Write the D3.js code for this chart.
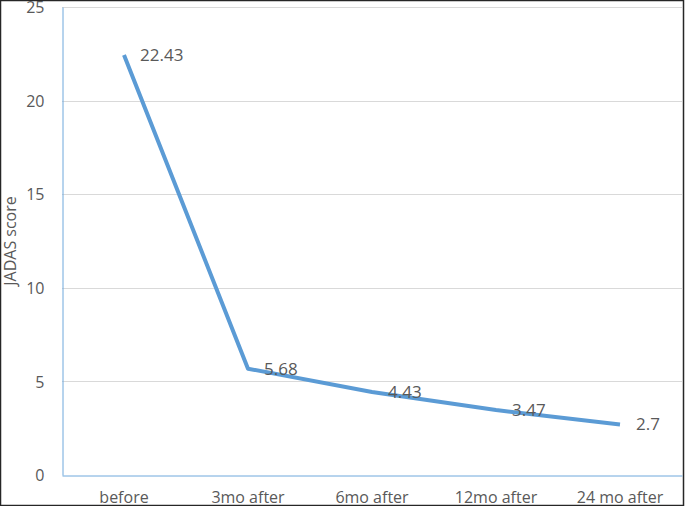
<!DOCTYPE html>
<html>
<head>
<meta charset="utf-8">
<script src="https://cdn.jsdelivr.net/npm/d3@7"></script>
<style>
  body { margin: 0; background: white; }
  text { font-family: "Open Sans", "Noto Sans", sans-serif; fill: #595959; }
</style>
</head>
<body>
<div id="chart"></div>
<script>
let categories = ["before", "3mo after", "6mo after", "12mo after", "24 mo after"]
let scores = [22.43, 5.68, 4.43, 3.47, 2.7]
let y_ticks = [0, 5, 10, 15, 20, 25]

let width = 685
let height = 506
let margin = { left: 62, right: 3, top: 7, bottom: 31 }

let svg = d3.select("#chart")
    .append("svg")
    .attr("width", width)
    .attr("height", height)

// 外框
svg.append("rect")
    .attr("x", 0.5).attr("y", 0.5)
    .attr("width", width - 2).attr("height", height - 1)
    .attr("fill", "white")
    .attr("stroke", "#262626")
    .attr("stroke-width", 1.5)

let x = d3.scaleBand()
    .domain(categories)
    .range([margin.left, width - margin.right])

let y = d3.scaleLinear()
    .domain([0, 25])
    .range([height - margin.bottom, margin.top])

// 格線
svg.append("g")
    .selectAll("line")
    .data(y_ticks.filter(d => d > 0))
    .join("line")
    .attr("x1", margin.left).attr("x2", width - margin.right)
    .attr("y1", d => Math.round(y(d)) + 0.5).attr("y2", d => Math.round(y(d)) + 0.5)
    .attr("stroke", "#d9d9d9")

// Y 軸 (頂端的 25 與原圖一樣稍微被切到)
let yAxis = svg.append("g")
    .attr("transform", `translate(${margin.left + 0.5},0)`)
    .call(d3.axisLeft(y).tickValues(y_ticks).tickSize(0).tickPadding(18))
yAxis.select(".domain").attr("stroke", "#6fa8dc")
yAxis.selectAll("text").style("font-size", "16px").attr("fill", "#595959").attr("dy", "0.35em")

// X 軸
let xAxis = svg.append("g")
    .attr("transform", `translate(0,${Math.round(y(0)) + 0.5})`)
    .call(d3.axisBottom(x).tickSize(0).tickPadding(16))
xAxis.select(".domain").attr("stroke", "#6fa8dc")
xAxis.selectAll("text").style("font-size", "16px").attr("fill", "#595959")

// 軸標題
svg.append("text")
    .attr("transform", `translate(16,${(margin.top + height - margin.bottom) / 2}) rotate(-90)`)
    .attr("text-anchor", "middle")
    .style("font-size", "16px")
    .text("JADAS score")

let line = d3.line()
    .x((d, i) => x(categories[i]) + x.bandwidth() / 2)
    .y(d => y(d))

svg.append("path")
    .datum(scores)
    .attr("d", line)
    .attr("fill", "none")
    .attr("stroke", "#5b9bd5")
    .attr("stroke-width", 4)
    .attr("stroke-linejoin", "round")

// 數值標籤
svg.append("g")
    .selectAll("text")
    .data(scores)
    .join("text")
    .attr("x", (d, i) => x(categories[i]) + x.bandwidth() / 2 + 16)
    .attr("y", d => y(d))
    .attr("dy", "0.35em")
    .style("font-size", "17px")
    .attr("fill", "#404040")
    .text(d => d)
</script>
</body>
</html>
